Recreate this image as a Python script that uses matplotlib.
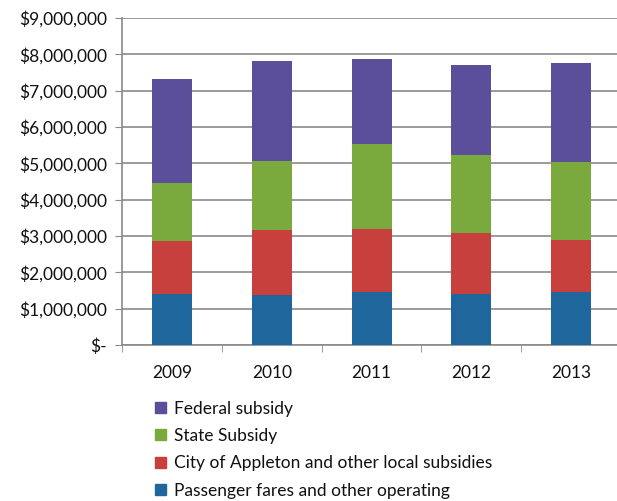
import matplotlib
matplotlib.use("Agg")
import matplotlib.pyplot as plt
from matplotlib.ticker import FuncFormatter, FixedLocator
from matplotlib.patches import Patch
import numpy as np

plt.rcParams['font.family'] = ['Lato', 'DejaVu Sans']

years = ['2009', '2010', '2011', '2012', '2013']
fares = [1420000, 1370000, 1460000, 1420000, 1470000]
local = [1450000, 1800000, 1740000, 1680000, 1420000]
state = [1600000, 1890000, 2340000, 2140000, 2140000]
federal = [2850000, 2750000, 2320000, 2480000, 2720000]

series = [
    ('Passenger fares and other operating', fares, '#1f669c'),
    ('City of Appleton and other local subsidies', local, '#c8403e'),
    ('State Subsidy', state, '#7aa93d'),
    ('Federal subsidy', federal, '#5b4f9b'),
]

fig = plt.figure(figsize=(6.17, 5.01), dpi=100)
ax = fig.add_axes([0.198, 0.311, 0.802, 0.653])

x = np.arange(len(years))
bottom = np.zeros(len(years))
for name, vals, col in series:
    ax.bar(x, vals, width=0.4, bottom=bottom, color=col, zorder=3)
    bottom += np.array(vals)

ax.set_xlim(-0.5, 4.46)
ax.set_ylim(0, 9000000)
ax.set_yticks(np.arange(0, 9000001, 1000000))
ax.yaxis.set_major_formatter(FuncFormatter(lambda v, p: '$-' if v == 0 else '${:,.0f}'.format(v)))
ax.grid(axis='y', color='#8a8a8a', linewidth=1.2, zorder=0)

ax.set_xticks(x)
ax.set_xticklabels(years)
ax.xaxis.set_minor_locator(FixedLocator(np.arange(-0.5, 4.6, 1)))
ax.tick_params(axis='x', which='major', length=0, pad=14, labelsize=12.5, colors='#111111')
ax.tick_params(axis='x', which='minor', length=5, color='#8a8a8a', direction='out')
ax.tick_params(axis='y', length=5, color='#8a8a8a', labelsize=12.5, labelcolor='#111111', pad=6)

for s in ['top', 'right']:
    ax.spines[s].set_visible(False)
for s in ['left', 'bottom']:
    ax.spines[s].set_color('#8a8a8a')
    ax.spines[s].set_linewidth(1.2)

handles = [Patch(color=col, label=name) for name, vals, col in series][::-1]
fig.legend(handles=handles, loc='upper left', bbox_to_anchor=(0.252, 0.200),
           frameon=False, fontsize=12.5, handlelength=0.6, handleheight=0.6,
           handletextpad=0.45, labelspacing=0.65, borderaxespad=0, borderpad=0,
           labelcolor='#111111')

fig.savefig('out.png', dpi=100)
